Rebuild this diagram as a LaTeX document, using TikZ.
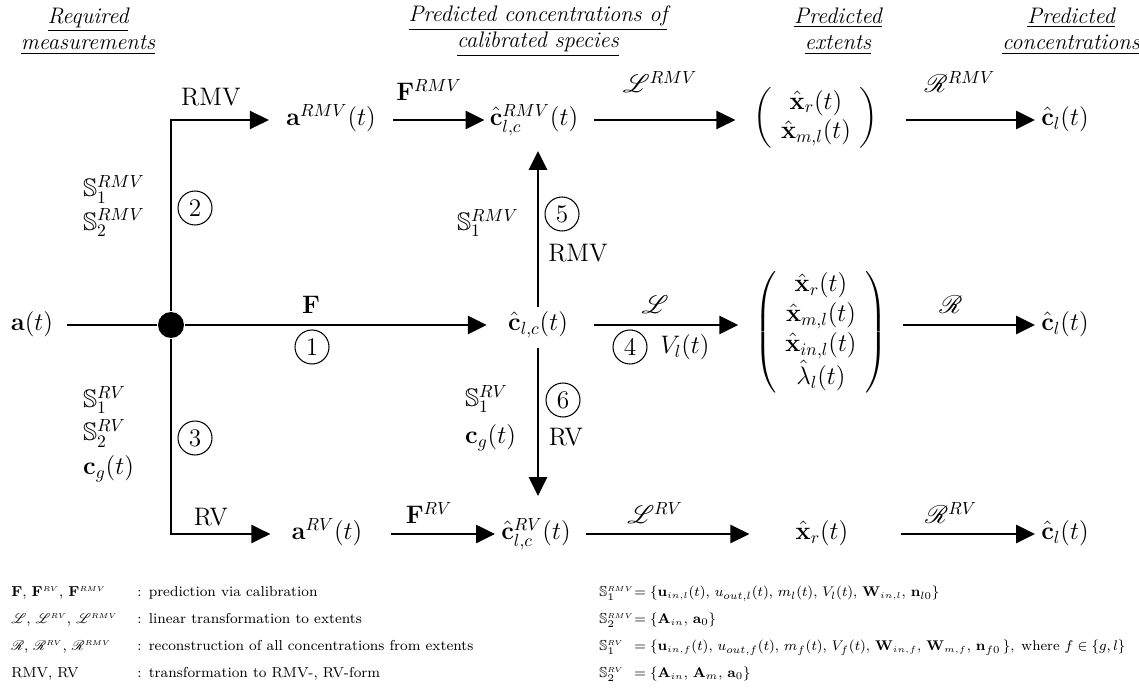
\RequirePackage{fix-cm}
\documentclass[tikz,border=0pt]{standalone}
\usepackage{amssymb,mathrsfs}
\usetikzlibrary{arrows.meta}

\newcommand{\tsub}[1]{{\scriptscriptstyle #1}}

\begin{document}
\begin{tikzpicture}[x=0.02cm,y=-0.02cm,
  font=\fontsize{14.4}{17}\selectfont,
  line width=1.5pt,
  arr/.style={-{Triangle[length=3.8mm,width=3.6mm]}},
  val/.style={inner sep=0pt, text height=2.3ex, text depth=0.9ex},
  num/.style={draw, circle, line width=0.6pt, minimum size=0.68cm, inner sep=0pt},
  head/.style={align=center, font=\fontsize{12.8}{15}\selectfont\itshape},
  lgd/.style={anchor=west, inner sep=0pt, text height=1.8ex, text depth=0.6ex, font=\fontsize{8.2}{10}\selectfont},
  lset/.style={lgd, font=\fontsize{8}{10}\selectfont}]

\useasboundingbox (0,0) rectangle (1139,699);

%%% 見出し
\node[head] (hReq) at (88,31)   {\underline{Required}\\\underline{measurements}};
\node[head] (hCal) at (538,31)  {\underline{Predicted concentrations of}\\\underline{calibrated species}};
\node[head] (hExt) at (838,31)  {\underline{Predicted}\\\underline{extents}};
\node[head] (hCon) at (1071,31) {\underline{Predicted}\\\underline{concentrations}};
%%%

%% 中段
\node[val] (a) at (32,325) {$\mathbf{a}(t)$};
\node[circle, fill, inner sep=0pt, minimum size=0.52cm] (hub) at (171,325) {};
\node[val] (cc) at (538,325) {$\hat{\mathbf{c}}_{l,c}(t)$};
\node (ext) at (821,332) {$\left(\begin{array}{c}
  \hat{\mathbf{x}}_r(t)\\ \hat{\mathbf{x}}_{m,l}(t)\\ \hat{\mathbf{x}}_{in,l}(t)\\ \hat{\lambda}_l(t)
  \end{array}\right)$};
\node[val] (cl) at (1065,325) {$\hat{\mathbf{c}}_l(t)$};

%% 上段
\node[val] (aRMV) at (331,120) {$\mathbf{a}^{RMV}(t)$};
\node[val] (cRMV) at (534,120) {$\hat{\mathbf{c}}^{RMV}_{l,c}(t)$};
\node (extRMV) at (816,118) {$\left(\begin{array}{c}
  \hat{\mathbf{x}}_r(t)\\ \hat{\mathbf{x}}_{m,l}(t)
  \end{array}\right)$};
\node[val] (clRMV) at (1065,120) {$\hat{\mathbf{c}}_l(t)$};

%% 下段
\node[val] (aRV) at (327,534) {$\mathbf{a}^{RV}(t)$};
\node[val] (cRV) at (536,534) {$\hat{\mathbf{c}}^{RV}_{l,c}(t)$};
\node[val] (xRV) at (822,534) {$\hat{\mathbf{x}}_r(t)$};
\node[val] (clRV) at (1065,534) {$\hat{\mathbf{c}}_l(t)$};

%% 矢印
\draw[shorten <=0.26cm] (a) -- (hub);
\draw[arr, shorten >=0.4cm] (hub) -- (cc);
\draw[arr, shorten <=0.5cm, shorten >=0.18cm] (cc.east) -- (cc.east -| ext.west);
\draw[arr, shorten <=0.16cm, shorten >=0.1cm] (ext.east |- cl.west) -- (cl.west);

\draw[arr, shorten >=0.32cm] (hub) |- (aRMV);
\draw[arr, shorten <=0.32cm, shorten >=0.08cm] (aRMV) -- (cRMV);
\draw[arr, shorten <=0.3cm, shorten >=0.22cm] (cRMV.east) -- (cRMV.east -| extRMV.west);
\draw[arr, shorten <=0.4cm, shorten >=0.1cm] (extRMV.east |- clRMV.west) -- (clRMV.west);

\draw[arr, shorten >=0.4cm] (hub) |- (aRV);
\draw[arr, shorten <=0.54cm, shorten >=0.1cm] (aRV) -- (cRV);
\draw[arr, shorten <=0.28cm, shorten >=0.9cm] (cRV) -- (xRV);
\draw[arr, shorten <=1.02cm, shorten >=0.1cm] (xRV) -- (clRV);

\draw[arr, shorten <=0.1cm, shorten >=0.35cm] (cc) -- (cc |- cRMV.south);
\draw[arr, shorten <=0.2cm, shorten >=0.49cm] (cc) -- (cc |- cRV.north);

%% ラベル
\node (lRMV) at (211,97) {RMV};
\node (lFRMV) at (429,90) {$\mathbf{F}^{RMV}$};
\node (lLRMV) at (660,82) {$\mathscr{L}^{RMV}$};
\node (lRRMV) at (960,82) {$\mathscr{R}^{RMV}$};

\node (lF) at (311,305) {$\mathbf{F}$};
\node[num] (n1) at (312,347) {1};
\node (lL) at (655,305) {$\mathscr{L}$};
\node[num] (n4) at (630,347) {4};
\node (lV) at (685,347) {$V_l(t)$};
\node (lR) at (951,305) {$\mathscr{R}$};

\node (lRV) at (211,517) {RV};
\node (lFRV) at (429,513) {$\mathbf{F}^{RV}$};
\node (lLRV) at (655,513) {$\mathscr{L}^{RV}$};
\node (lRRV) at (951,513) {$\mathscr{R}^{RV}$};

\node[num] (n2) at (195,208) {2};
\node[num] (n3) at (195,438) {3};
\node[num] (n5) at (562,214) {5};
\node[num] (n6) at (563,400) {6};
\node (lRMVv) at (578,253) {RMV};
\node (lRVv) at (566,437) {RV};

\node[align=left, anchor=west] (sL1) at (76,206) {$\mathbb{S}_1^{RMV}$\\[2pt]$\mathbb{S}_2^{RMV}$};
\node[align=left, anchor=west] (sL2) at (76,434) {$\mathbb{S}_1^{RV}$\\[2pt]$\mathbb{S}_2^{RV}$\\[2pt]$\mathbf{c}_g(t)$};
\node[anchor=west] (sM1) at (450,223) {$\mathbb{S}_1^{RMV}$};
\node[align=left, anchor=west] (sM2) at (458,418) {$\mathbb{S}_1^{RV}$\\[4pt]$\mathbf{c}_g(t)$};

%% 凡例
\node[lgd] (k1) at (10,592) {$\mathbf{F}$, $\mathbf{F}^{\tsub{RV}}$, $\mathbf{F}^{\tsub{RMV}}$};
\node[lgd] (k2) at (10,619) {$\mathscr{L}$, $\mathscr{L}^{\tsub{RV}}$, $\mathscr{L}^{\tsub{RMV}}$};
\node[lgd] (k3) at (10,646) {$\mathscr{R}$, $\mathscr{R}^{\tsub{RV}}$, $\mathscr{R}^{\tsub{RMV}}$};
\node[lgd] (k4) at (10,673) {RMV, RV};
\node[lgd] (d1) at (136,592) {:\enspace prediction via calibration};
\node[lgd] (d2) at (136,619) {:\enspace linear transformation to extents};
\node[lgd] (d3) at (136,646) {:\enspace reconstruction of all concentrations from extents};
\node[lgd] (d4) at (136,673) {:\enspace transformation to RMV-, RV-form};

\node[lgd] (s1) at (598,592) {$\mathbb{S}_1^{\tsub{RMV}}$};
\node[lgd] (s2) at (598,619) {$\mathbb{S}_2^{\tsub{RMV}}$};
\node[lgd] (s3) at (598,646) {$\mathbb{S}_1^{\tsub{RV}}$};
\node[lgd] (s4) at (598,673) {$\mathbb{S}_2^{\tsub{RV}}$};
\node[lset] (e1) at (633,592) {$=\{\mathbf{u}_{\tsub{in,l}}(t)$, $u_{out,l}(t)$, $m_l(t)$, $V_l(t)$, $\mathbf{W}_{\tsub{in,l}}$, $\mathbf{n}_{l0}\}$};
\node[lset] (e2) at (633,619) {$=\{\mathbf{A}_{\tsub{in}}$, $\mathbf{a}_0\}$};
\node[lset] (e3) at (633,646) {$=\{\mathbf{u}_{\tsub{in,f}}(t)$, $u_{out,f}(t)$, $m_f(t)$, $V_f(t)$, $\mathbf{W}_{\tsub{in,f}}$, $\mathbf{W}_{\tsub{m,f}}$, $\mathbf{n}_{f0}\,\}$,\enspace where $f\in\{g,l\}$};
\node[lset] (e4) at (633,673) {$=\{\mathbf{A}_{\tsub{in}}$, $\mathbf{A}_m$, $\mathbf{a}_0\}$};

\end{tikzpicture}
\end{document}
